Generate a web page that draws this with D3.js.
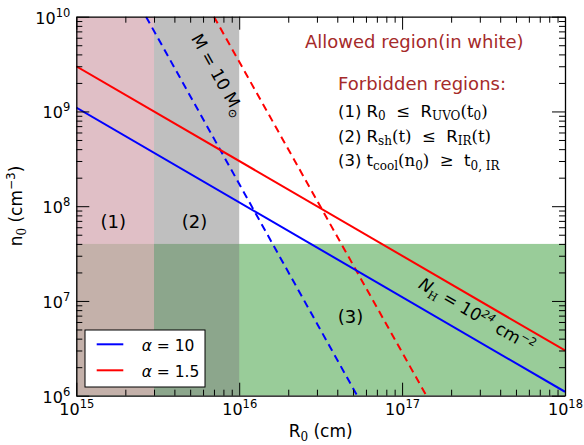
<!DOCTYPE html>
<html>
<head>
<meta charset="utf-8">
<script src="https://cdn.jsdelivr.net/npm/d3@7"></script>
<style>
  html, body { margin: 0; padding: 0; background: #fff; }
  svg text { font-family: "DejaVu Sans", sans-serif; white-space: pre; }
</style>
</head>
<body>
<svg id="chart" width="584" height="445"></svg>
<script>
// Axis ranges (log-log)
const xDomain = [1e15, 1e18];
const yDomain = [1e6, 1e10];
const xMajor = [1e15, 1e16, 1e17, 1e18];
const yMajor = [1e6, 1e7, 1e8, 1e9, 1e10];

// Forbidden regions
const region1R = [1e15, 3e15];   // (1) R0 <= R_UVO(t0)
const region2R = [3e15, 1e16];   // (2) R_sh(t) <= R_IR(t)
const region3N = [1e6, 4e7];     // (3) t_cool(n0) >= t_0,IR

// Constant column density lines, N_H = 10^24 cm^-2
const columnR = [1e15, 1e18];
const columnN_a10 = [1.1e9, 1.1e6];
const columnN_a15 = [3e9, 3e6];

// Constant mass lines, M = 10 M_sun
const massN = [1e10, 1e6];
const massR_a10 = [2.68e15, 5.3e16];
const massR_a15 = [7.0e15, 1.41e17];

const seriesLabels = ["10", "1.5"];

const svg = d3.select("#chart");
const pLeft = 76.3, pRight = 565, pTop = 16.7, pBottom = 395.7;

const x = d3.scaleLog().domain(xDomain).range([pLeft, pRight]);
const y = d3.scaleLog().domain(yDomain).range([pBottom, pTop]);

const minorTicks = (lo, hi) => {
  const out = [];
  for (let e = Math.log10(lo); e < Math.log10(hi); e++)
    for (let m = 2; m <= 9; m++) out.push(m * Math.pow(10, e));
  return out;
};

// rich text helper: parts with optional baseline shift (px), size, family, style
function rich(sel, parts) {
  let shift = 0;
  parts.forEach(p => {
    const ts = sel.append("tspan").text(p.t);
    if (p.size) ts.attr("font-size", p.size);
    if (p.family) ts.attr("font-family", p.family);
    if (p.style) ts.attr("font-style", p.style);
    const s = p.shift || 0;
    if (s !== shift) { ts.attr("dy", s - shift); shift = s; }
  });
  return sel;
}
const SERIF = "DejaVu Serif, serif";

svg.append("defs").append("clipPath").attr("id", "plot")
  .append("rect").attr("x", pLeft).attr("y", pTop)
  .attr("width", pRight - pLeft).attr("height", pBottom - pTop);

const plot = svg.append("g").attr("clip-path", "url(#plot)");

// shaded regions
plot.append("rect")
  .attr("x", x(xDomain[0])).attr("width", x(xDomain[1]) - x(xDomain[0]))
  .attr("y", y(region3N[1])).attr("height", y(region3N[0]) - y(region3N[1]))
  .attr("fill", "#008000").attr("fill-opacity", 0.4);
plot.append("rect")
  .attr("x", x(region2R[0])).attr("width", x(region2R[1]) - x(region2R[0]))
  .attr("y", y(yDomain[1])).attr("height", y(yDomain[0]) - y(yDomain[1]))
  .attr("fill", "#808080").attr("fill-opacity", 0.5);
plot.append("rect")
  .attr("x", x(region1R[0])).attr("width", x(region1R[1]) - x(region1R[0]))
  .attr("y", y(yDomain[1])).attr("height", y(yDomain[0]) - y(yDomain[1]))
  .attr("fill", "rgb(212,166,176)").attr("fill-opacity", 0.72);

const line = d3.line().x(d => x(d[0])).y(d => y(d[1]));
const zip = (a, b) => a.map((v, i) => [v, b[i]]);

// mass lines (dashed)
plot.append("path").attr("d", line(zip(massR_a10, massN)))
  .attr("fill", "none").attr("stroke", "#0000ff").attr("stroke-width", 2)
  .attr("stroke-dasharray", "7.5,5");
plot.append("path").attr("d", line(zip(massR_a15, massN)))
  .attr("fill", "none").attr("stroke", "#ff0000").attr("stroke-width", 2)
  .attr("stroke-dasharray", "7.5,5");

// column density lines
plot.append("path").attr("d", line(zip(columnR, columnN_a10)))
  .attr("fill", "none").attr("stroke", "#0000ff").attr("stroke-width", 2);
plot.append("path").attr("d", line(zip(columnR, columnN_a15)))
  .attr("fill", "none").attr("stroke", "#ff0000").attr("stroke-width", 2);

// axes
function styleAxis(g) {
  g.selectAll("path.domain").attr("stroke", "#000").attr("stroke-width", 1.3);
  g.selectAll(".tick line").attr("stroke", "#000").attr("stroke-width", 1);
}
const MAJ = 13, MIN = 6;
const fmtPow = (g) => {
  g.selectAll(".tick text").each(function(d) {
    const t = d3.select(this);
    t.text(null).attr("fill", "#000");
    rich(t, [{ t: "10", size: 16 }, { t: String(Math.round(Math.log10(d))), size: 11.5, shift: -7 }]);
  });
};

svg.append("g").attr("transform", `translate(0,${pBottom})`)
  .call(d3.axisBottom(x).tickValues(minorTicks(1e15, 1e18)).tickSize(-MIN).tickFormat(""))
  .call(styleAxis).call(g => g.select(".domain").remove());
const xb = svg.append("g").attr("transform", `translate(0,${pBottom})`)
  .call(d3.axisBottom(x).tickValues(xMajor).tickSize(-MAJ).tickSizeOuter(0).tickPadding(0))
  .call(styleAxis);
xb.selectAll(".tick text").attr("y", 19.5).attr("dy", 0).attr("font-family", null);
fmtPow(xb);
xb.selectAll(".tick text").attr("text-anchor", "middle");

svg.append("g").attr("transform", `translate(0,${pTop})`)
  .call(d3.axisTop(x).tickValues(minorTicks(1e15, 1e18)).tickSize(-MIN).tickFormat(""))
  .call(styleAxis).call(g => g.select(".domain").remove());
svg.append("g").attr("transform", `translate(0,${pTop})`)
  .call(d3.axisTop(x).tickValues(xMajor).tickSize(-MAJ).tickSizeOuter(0).tickFormat(""))
  .call(styleAxis);

svg.append("g").attr("transform", `translate(${pLeft},0)`)
  .call(d3.axisLeft(y).tickValues(minorTicks(1e6, 1e10)).tickSize(-MIN).tickFormat(""))
  .call(styleAxis).call(g => g.select(".domain").remove());
const yl = svg.append("g").attr("transform", `translate(${pLeft},0)`)
  .call(d3.axisLeft(y).tickValues(yMajor).tickSize(-MAJ).tickSizeOuter(0).tickPadding(0))
  .call(styleAxis);
yl.selectAll(".tick text").attr("x", -6).attr("dy", 0).attr("y", 6.5).attr("font-family", null);
fmtPow(yl);

svg.append("g").attr("transform", `translate(${pRight},0)`)
  .call(d3.axisRight(y).tickValues(minorTicks(1e6, 1e10)).tickSize(-MIN).tickFormat(""))
  .call(styleAxis).call(g => g.select(".domain").remove());
svg.append("g").attr("transform", `translate(${pRight},0)`)
  .call(d3.axisRight(y).tickValues(yMajor).tickSize(-MAJ).tickSizeOuter(0).tickFormat(""))
  .call(styleAxis);

// axis titles
rich(svg.append("text").attr("x", (pLeft + pRight) / 2).attr("y", 437)
  .attr("text-anchor", "middle").attr("font-size", 17),
  [{ t: "R" }, { t: "0", family: SERIF, size: 12, shift: 4 }, { t: " (cm)" }]);
rich(svg.append("text").attr("transform", `translate(22,206) rotate(-90)`)
  .attr("text-anchor", "middle").attr("font-size", 17),
  [{ t: "n" }, { t: "0", family: SERIF, size: 12, shift: 4 }, { t: " (cm" },
   { t: "−3", size: 12, shift: -7 }, { t: ")" }]);

// region labels
svg.append("text").attr("x", 113.3).attr("y", 228.3).attr("text-anchor", "middle")
  .attr("font-size", 18).text("(1)");
svg.append("text").attr("x", 194.5).attr("y", 228.3).attr("text-anchor", "middle")
  .attr("font-size", 18).text("(2)");
svg.append("text").attr("x", 350.5).attr("y", 323.3).attr("text-anchor", "middle")
  .attr("font-size", 18).text("(3)");

// annotations
svg.append("text").attr("x", 305).attr("y", 48.3).attr("font-size", 18)
  .attr("fill", "#a52a2a").text("Allowed region(in white)");
svg.append("text").attr("x", 338).attr("y", 90).attr("font-size", 18)
  .attr("fill", "#a52a2a").text("Forbidden regions:");

const sub = (t) => ({ t, family: SERIF, size: 12, shift: 3.5 });
const ser = (t) => ({ t, family: SERIF });
rich(svg.append("text").attr("x", 338).attr("y", 116.7).attr("font-size", 16.5),
  [{ t: "(1) R" }, sub("0"), ser("  ≤  "), { t: "R" }, sub("UVO"), ser("(t"), sub("0"), ser(")")]);
rich(svg.append("text").attr("x", 338).attr("y", 141.7).attr("font-size", 16.5),
  [{ t: "(2) R" }, sub("sh"), ser("(t)  ≤  "), { t: "R" }, sub("IR"), ser("(t)")]);
rich(svg.append("text").attr("x", 338).attr("y", 166).attr("font-size", 16.5),
  [{ t: "(3) t" }, sub("cool"), ser("(n"), sub("0"), ser(")  ≥  "), { t: "t" }, sub("0, IR")]);

// line labels
const slopeAngle = Math.atan2(y(1e6) - y(1e7), x(1e16) - x(1e15)) * 180 / Math.PI;
rich(svg.append("text").attr("transform", `translate(474,320) rotate(${slopeAngle})`)
  .attr("text-anchor", "middle").attr("font-size", 17),
  [{ t: "N", style: "italic" }, { t: "H", family: SERIF, size: 11, shift: 4 }, { t: " = 10" },
   { t: "24", size: 11, style: "italic", shift: -7 }, { t: " cm" }, { t: "−2", size: 11, shift: -7 }]);

const massAngle = Math.atan2(y(massN[1]) - y(massN[0]), x(massR_a10[1]) - x(massR_a10[0])) * 180 / Math.PI;
rich(svg.append("text").attr("transform", `translate(213,78) rotate(${massAngle})`)
  .attr("text-anchor", "middle").attr("font-size", 17),
  [{ t: "M = 10 M" }, { t: "⊙", family: SERIF, size: 12, shift: 4 }]);

// legend
const lg = svg.append("g");
lg.append("rect").attr("x", 85).attr("y", 330).attr("width", 120).attr("height", 57)
  .attr("fill", "#fff").attr("stroke", "#000").attr("stroke-width", 1);
const legColors = ["#0000ff", "#ff0000"];
seriesLabels.forEach((lab, i) => {
  const yy = 344.3 + i * 26;
  lg.append("line").attr("x1", 96.7).attr("x2", 123.3).attr("y1", yy).attr("y2", yy)
    .attr("stroke", legColors[i]).attr("stroke-width", 2);
  rich(lg.append("text").attr("x", 141.7).attr("y", yy + 6.2).attr("font-size", 15.5)
    .attr("font-family", SERIF),
    [{ t: "α", style: "italic" }, { t: " = " + lab }]);
});
</script>
</body>
</html>
